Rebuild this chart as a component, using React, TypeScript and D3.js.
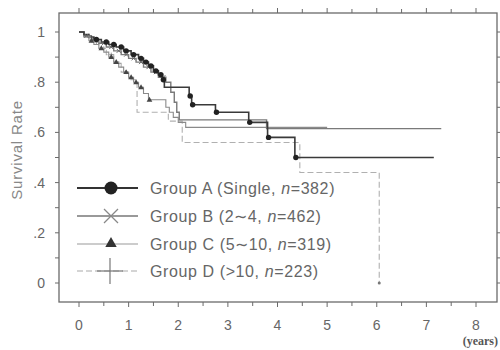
import * as d3 from 'd3';

// Kaplan-Meier style steps: [years, survival]
const groupA: [number, number][] = [
  [0, 1], [0.1, 0.99], [0.2, 0.98], [0.3, 0.97], [0.45, 0.96], [0.6, 0.95], [0.75, 0.94],
  [0.9, 0.925], [1.05, 0.91], [1.2, 0.895], [1.3, 0.88], [1.4, 0.865], [1.5, 0.845],
  [1.6, 0.83], [1.68, 0.81], [1.72, 0.78], [2.22, 0.745], [2.27, 0.71], [2.75, 0.68],
  [3.42, 0.64], [3.8, 0.58], [4.35, 0.5], [7.15, 0.5],
];
const groupB: [number, number][] = [
  [0, 1], [0.1, 0.985], [0.25, 0.97], [0.4, 0.955], [0.55, 0.94], [0.7, 0.925], [0.85, 0.91],
  [1.0, 0.895], [1.15, 0.88], [1.3, 0.86], [1.45, 0.84], [1.6, 0.82], [1.75, 0.8],
  [1.85, 0.76], [1.92, 0.72], [1.97, 0.68], [2.02, 0.65], [3.78, 0.615], [7.3, 0.615],
];
const groupC: [number, number][] = [
  [0, 1], [0.1, 0.98], [0.2, 0.965], [0.3, 0.95], [0.4, 0.935], [0.5, 0.92], [0.6, 0.9],
  [0.7, 0.88], [0.8, 0.86], [0.9, 0.84], [1.0, 0.82], [1.1, 0.8], [1.2, 0.78], [1.3, 0.755],
  [1.4, 0.73], [1.75, 0.7], [1.82, 0.68], [1.9, 0.66], [2.0, 0.64], [2.15, 0.62], [5.0, 0.62],
];
const groupD: [number, number][] = [
  [0, 1], [0.1, 0.98], [0.25, 0.96], [0.4, 0.935], [0.55, 0.91], [0.7, 0.875], [0.85, 0.84],
  [1.0, 0.81], [1.17, 0.68], [1.8, 0.645], [2.08, 0.56], [4.45, 0.44], [6.05, 0],
];

// censor / event marks (years)
const marksA = [0.35, 0.55, 0.7, 0.85, 0.95, 1.1, 1.25, 1.35, 1.45, 1.55, 1.65, 1.7, 2.24, 2.29, 2.77, 3.44, 3.82, 4.37];
const marksB = [0.15, 0.3, 0.5, 0.65, 0.8, 0.95, 1.1, 1.25, 1.4, 1.55, 1.7];
const marksC = [0.25, 0.45, 0.65, 0.75, 0.95, 1.05, 1.15, 1.25, 1.42];
const marksD = [0.2, 0.35, 0.5, 0.65, 0.8, 0.95];

const legendLabels = ['Group A (Single, ', 'Group B (2∼4, ', 'Group C (5∼10, ', 'Group D (>10, '];
const legendN = ['382', '462', '319', '223'];

const xTicks = [0, 1, 2, 3, 4, 5, 6, 7, 8];
const yTicks = [0, 0.2, 0.4, 0.6, 0.8, 1];
const yTickLabels = ['0', '.2', '.4', '.6', '.8', '1'];

const x = d3.scaleLinear().domain([0, 8]).range([79, 476]);
const y = d3.scaleLinear().domain([0, 1]).range([283, 32]);

const box = { left: 59, top: 13, right: 497, bottom: 302 };

const line = d3.line<[number, number]>()
  .x(d => x(d[0]))
  .y(d => y(d[1]))
  .curve(d3.curveStepAfter);

const survAt = (data: [number, number][], t: number) => {
  let s = 1;
  for (const [tt, v] of data) if (tt <= t) s = v;
  return s;
};

const axisColor = '#6a6a6a';
const textColor = '#666';
const font = 'Liberation Sans, Arial, sans-serif';

const Cross = ({ cx, cy, r, color, w }: any) => (
  <g stroke={color} strokeWidth={w}>
    <line x1={cx - r} y1={cy - r} x2={cx + r} y2={cy + r} />
    <line x1={cx - r} y1={cy + r} x2={cx + r} y2={cy - r} />
  </g>
);
const Plus = ({ cx, cy, rx, ry, color, w }: any) => (
  <g stroke={color} strokeWidth={w}>
    <line x1={cx - rx} y1={cy} x2={cx + rx} y2={cy} />
    <line x1={cx} y1={cy - ry} x2={cx} y2={cy + ry} />
  </g>
);
const Tri = ({ cx, cy, r, color }: any) => (
  <path d={`M${cx},${cy - r} L${cx + r * 0.95},${cy + r * 0.65} L${cx - r * 0.95},${cy + r * 0.65} Z`} fill={color} />
);

export default function App() {
  const minorX = d3.range(0, 8.01, 0.5);
  const minorY = d3.range(0, 1.01, 0.1);
  const rows = [188, 216, 244, 271];

  return (
    <svg width={500} height={350} style={{ position: 'absolute', left: 0, top: 0, background: '#fff' }}>
      {/* frame */}
      <rect x={box.left} y={box.top} width={box.right - box.left} height={box.bottom - box.top}
        fill="none" stroke={axisColor} strokeWidth={1.3} />
      {/* bottom and top ticks */}
      {minorX.map(t => (
        <g key={'x' + t} stroke={axisColor} strokeWidth={1}>
          <line x1={x(t)} x2={x(t)} y1={box.bottom} y2={box.bottom + (t % 1 === 0 ? 5 : 4)} />
          <line x1={x(t)} x2={x(t)} y1={box.top} y2={box.top - (t % 1 === 0 ? 5 : 4)} />
        </g>
      ))}
      {/* left and right ticks */}
      {minorY.map(v => (
        <g key={'y' + v} stroke={axisColor} strokeWidth={1}>
          <line x1={box.left} x2={box.left - 4} y1={y(v)} y2={y(v)} />
          <line x1={box.right} x2={box.right + 3} y1={y(v)} y2={y(v)} />
        </g>
      ))}
      {xTicks.map(t => (
        <text key={'xl' + t} x={x(t)} y={330} textAnchor="middle" fontSize={14} fill={textColor} fontFamily={font}>{t}</text>
      ))}
      {yTicks.map((v, i) => (
        <text key={'yl' + v} x={45} y={y(v) + 5} textAnchor="end" fontSize={14} fill={textColor} fontFamily={font}>{yTickLabels[i]}</text>
      ))}
      <text x={498} y={345} textAnchor="end" fontSize={12} fontWeight="bold" fill="#555" fontFamily="Liberation Serif, serif">(years)</text>
      <text transform="translate(22,150) rotate(-90)" textAnchor="middle" fontSize={15} letterSpacing={0.8} fill="#888" fontFamily={font}>Survival Rate</text>

      {/* curves */}
      <path d={line(groupD) || ''} fill="none" stroke="#b0b0b0" strokeWidth={1.1} strokeDasharray="6,3" />
      <path d={line(groupC) || ''} fill="none" stroke="#8a8a8a" strokeWidth={1.1} />
      <path d={line(groupB) || ''} fill="none" stroke="#7a7a7a" strokeWidth={1.4} />
      <path d={line(groupA) || ''} fill="none" stroke="#3a3a3a" strokeWidth={1.6} />
      <circle cx={x(6.05)} cy={y(0)} r={1.5} fill="#777" />

      {marksD.map(t => <Plus key={'md' + t} cx={x(t)} cy={y(survAt(groupD, t))} rx={2} ry={2} color="#999" w={1} />)}
      {marksB.map(t => <Cross key={'mb' + t} cx={x(t)} cy={y(survAt(groupB, t))} r={2} color="#666" w={1} />)}
      {marksC.map(t => <Tri key={'mc' + t} cx={x(t)} cy={y(survAt(groupC, t))} r={3} color="#444" />)}
      {marksA.map(t => <circle key={'ma' + t} cx={x(t)} cy={y(survAt(groupA, t))} r={2.7} fill="#222" />)}

      {/* legend */}
      <g>
        <line x1={77} x2={138} y1={rows[0]} y2={rows[0]} stroke="#333" strokeWidth={2} />
        <circle cx={111} cy={rows[0]} r={6.5} fill="#222" />
        <line x1={77} x2={138} y1={rows[1]} y2={rows[1]} stroke="#777" strokeWidth={1.5} />
        <Cross cx={111} cy={rows[1]} r={7} color="#888" w={1.2} />
        <line x1={77} x2={138} y1={rows[2]} y2={rows[2]} stroke="#999" strokeWidth={1.1} />
        <Tri cx={111} cy={rows[2] - 1} r={6} color="#333" />
        <line x1={77} x2={138} y1={rows[3]} y2={rows[3]} stroke="#aaa" strokeWidth={1.1} strokeDasharray="6,3" />
        <Plus cx={110} cy={rows[3]} rx={13} ry={13} color="#777" w={1.2} />
        {legendLabels.map((l, i) => (
          <text key={l} x={150} y={rows[i] + 5.5} fontSize={16} letterSpacing={0.6} fill={textColor} fontFamily={font}>
            {l}<tspan fontStyle="italic">n</tspan>={legendN[i]})
          </text>
        ))}
      </g>
    </svg>
  );
}
